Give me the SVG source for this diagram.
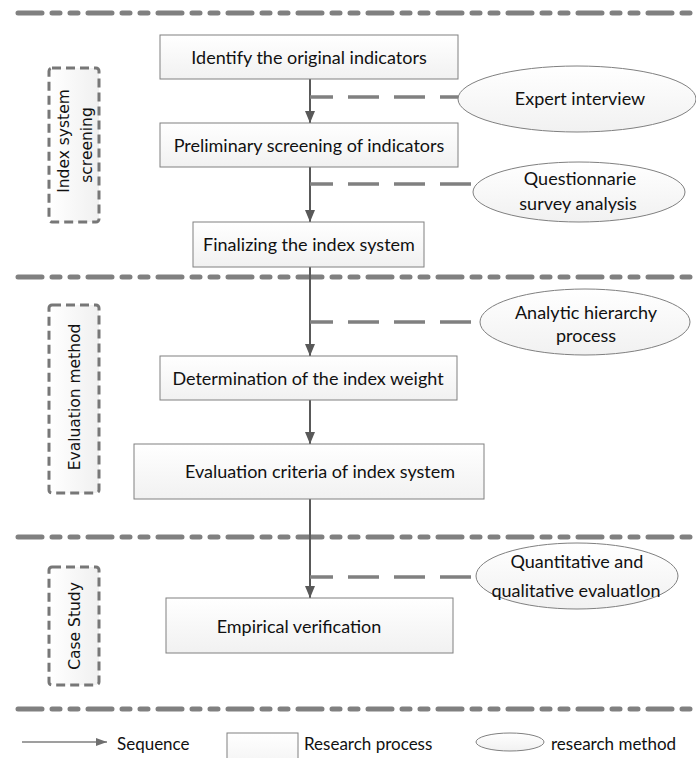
<svg xmlns="http://www.w3.org/2000/svg" width="696" height="758" viewBox="0 0 696 758">
<defs>
<linearGradient id="gBox" x1="0" y1="0" x2="0" y2="1"><stop offset="0" stop-color="#ffffff"/><stop offset="1" stop-color="#f1f1f1"/></linearGradient>
<linearGradient id="gLab" x1="0" y1="0" x2="1" y2="0"><stop offset="0" stop-color="#ffffff"/><stop offset="1" stop-color="#f0f0f0"/></linearGradient>
<marker id="ah" markerUnits="userSpaceOnUse" markerWidth="12" markerHeight="10" refX="12" refY="5" orient="auto"><path d="M0,0 L12,5 L0,10 z" fill="#595959"/></marker>
<marker id="ahL" markerUnits="userSpaceOnUse" markerWidth="11" markerHeight="8" refX="11" refY="4" orient="auto"><path d="M0,0 L11,4 L0,8 z" fill="#6f6f6f"/></marker>
</defs>
<style>
.div{stroke:#808080;stroke-width:5;stroke-dasharray:24 10 8 10 8 10;stroke-linecap:round;fill:none}
.box{fill:url(#gBox);stroke:#808080;stroke-width:1}
.ell{fill:url(#gBox);stroke:#808080;stroke-width:1}
.lab{fill:url(#gLab);stroke:#777777;stroke-width:3;stroke-dasharray:9 5}
.t{font-family:Lato,"Liberation Sans",sans-serif;font-size:18px;fill:#111111;text-anchor:middle;dominant-baseline:central}
.tl{font-family:"DejaVu Sans",sans-serif;font-size:15.5px;fill:#111111;text-anchor:middle;dominant-baseline:central}
.lg{font-family:Lato,"Liberation Sans",sans-serif;font-size:17px;fill:#111111;dominant-baseline:central}
.flow{stroke:#595959;stroke-width:2;fill:none;marker-end:url(#ah)}
.dc{stroke:#808080;stroke-width:3.5;stroke-dasharray:31 15;stroke-dashoffset:8;fill:none}
</style>
<g id="dividers">
<path class="div" d="M18,13 H696"/>
<path class="div" d="M18,277 H696"/>
<path class="div" d="M18,537 H696"/>
<path class="div" d="M18,709 H696"/>
</g>
<g id="stage-labels">
<g id="lab-screening"><rect class="lab" x="49" y="68" width="50" height="154" rx="3"/>
<text class="tl" transform="translate(64,141) rotate(-90)">Index system</text>
<text class="tl" transform="translate(87,145) rotate(-90)">screening</text></g>
<g id="lab-evaluation"><rect class="lab" x="49" y="305" width="50" height="188" rx="3"/>
<text class="tl" transform="translate(75,397) rotate(-90)">Evaluation method</text></g>
<g id="lab-case"><rect class="lab" x="49" y="567" width="50" height="118" rx="3"/>
<text class="tl" transform="translate(75,626) rotate(-90)">Case Study</text></g>
</g>
<g id="connectors">
<path class="flow" d="M310,79 V123"/>
<path class="flow" d="M310,167 V222"/>
<path class="flow" d="M310,267 V356"/>
<path class="flow" d="M310,400 V444"/>
<path class="flow" d="M310,499 V598"/>
<path class="dc" d="M310,97 H459"/>
<path class="dc" d="M310,184 H477"/>
<path class="dc" d="M310,322 H480"/>
<path class="dc" d="M310,577 H477"/>
</g>
<g id="n1"><rect class="box" x="160" y="35" width="298" height="44"/><text class="t" x="309" y="57">Identify the original indicators</text></g>
<g id="n2"><rect class="box" x="160" y="123" width="298" height="44"/><text class="t" x="309" y="145">Preliminary screening of indicators</text></g>
<g id="n3"><rect class="box" x="193" y="222" width="231" height="45"/><text class="t" x="309" y="244">Finalizing the index system</text></g>
<g id="n4"><rect class="box" x="160" y="356" width="297" height="44"/><text class="t" x="308" y="378">Determination of the index weight</text></g>
<g id="n5"><rect class="box" x="134" y="444" width="350" height="55"/><text class="t" x="320" y="471">Evaluation criteria of index system</text></g>
<g id="n6"><rect class="box" x="166" y="598" width="287" height="55"/><text class="t" x="299" y="626">Empirical verification</text></g>
<g id="m1"><ellipse class="ell" cx="577" cy="99" rx="119" ry="33"/><text class="t" x="580" y="98">Expert interview</text></g>
<g id="m2"><ellipse class="ell" cx="579" cy="192" rx="106" ry="30"/><text class="t" x="580" y="178">Questionnarie</text><text class="t" x="578" y="203">survey analysis</text></g>
<g id="m3"><ellipse class="ell" cx="585" cy="322" rx="105" ry="33"/><text class="t" x="586" y="312">Analytic hierarchy</text><text class="t" x="586" y="335">process</text></g>
<g id="m4"><ellipse class="ell" cx="577" cy="576" rx="101" ry="33"/><text class="t" x="577" y="561">Quantitative and</text><text class="t" x="576" y="590">qualitative evaluatIon</text></g>
<g id="legend">
<path d="M22,742 H107" stroke="#7f7f7f" stroke-width="1.5" fill="none" marker-end="url(#ahL)"/>
<text class="lg" x="117" y="743">Sequence</text>
<rect class="box" x="227" y="733" width="71" height="40"/>
<text class="lg" x="304" y="743">Research process</text>
<ellipse class="ell" cx="510" cy="742" rx="34" ry="9"/>
<text class="lg" x="551" y="743">research method</text>
</g>
</svg>
